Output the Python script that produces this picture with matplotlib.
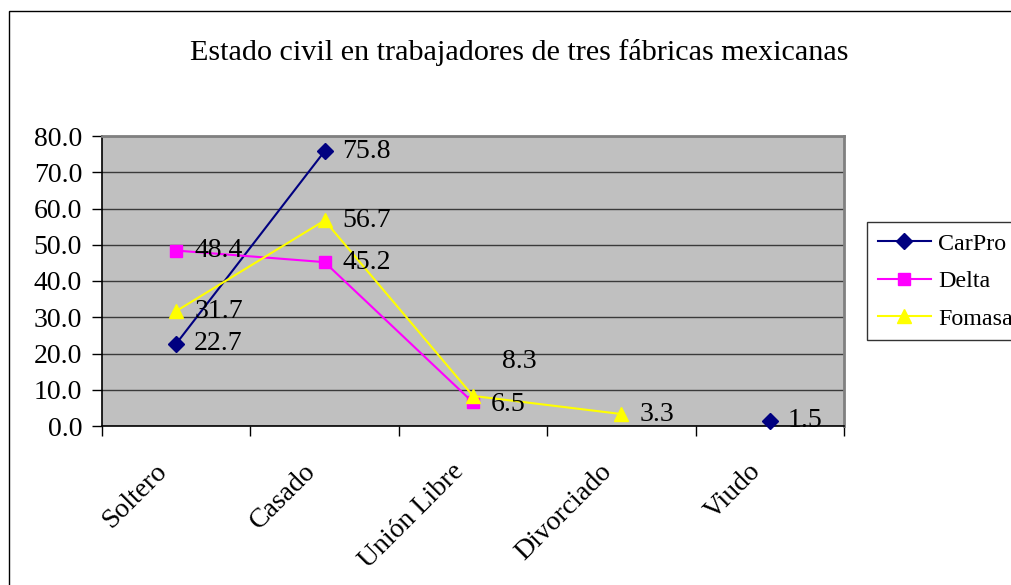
import numpy as np
import matplotlib
matplotlib.use("Agg")
import matplotlib.pyplot as plt
from matplotlib.patches import Rectangle
from matplotlib.transforms import ScaledTranslation

title = "Estado civil en trabajadores de tres fábricas mexicanas"
categories = ["Soltero", "Casado", "Unión Libre", "Divorciado", "Viudo"]
series_names = ["CarPro", "Delta", "Fomasa"]
carpro = [22.7, 75.8, np.nan, np.nan, 1.5]
delta = [48.4, 45.2, 6.5, np.nan, np.nan]
fomasa = [31.7, 56.7, 8.3, 3.3, np.nan]
y_ticks = [0, 10, 20, 30, 40, 50, 60, 70, 80]

plt.rcParams['font.family'] = ['Liberation Serif', 'DejaVu Serif']

W, H = 1011, 585
fig = plt.figure(figsize=(W / 100, H / 100), dpi=100)
fig.patch.set_facecolor('white')

# outer chart border
fig.patches.append(Rectangle((9 / W, -0.1), 1.2, (H - 11) / H + 0.1,
                             transform=fig.transFigure, fill=False,
                             edgecolor='black', lw=1.0, clip_on=False))

ax = fig.add_axes([102 / W, 1 - 426 / H, 742 / W, 290 / H])
ax.set_facecolor('#C0C0C0')

x = np.arange(len(categories))
styles = [
    (carpro, '#000080', 'D', 8),
    (delta, '#FF00FF', 's', 8.5),
    (fomasa, '#FFFF00', '^', 10),
]
handles = []
for (vals, col, mk, ms), name in zip(styles, series_names):
    ln, = ax.plot(x, vals, color=col, marker=mk, markersize=ms, lw=1.5,
                  markeredgecolor=col, markerfacecolor=col, label=name,
                  zorder=3, clip_on=False)
    handles.append(ln)

# data labels
label_offsets = {(2, 2): (29, 34), (1, 2): (18, -2)}
for si, (vals, col, mk, ms) in enumerate(styles):
    for i, v in enumerate(vals):
        if np.isnan(v):
            continue
        dx, dy = label_offsets.get((si, i), (18, 0))
        ax.annotate(f"{v:.1f}", (x[i], v), xytext=(dx, dy),
                    textcoords='offset pixels', ha='left', va='center',
                    fontsize=20, color='black', zorder=4)

ax.set_xlim(-0.5, len(categories) - 0.5)
ax.set_ylim(0, 80)
ax.set_yticks(y_ticks)
ax.set_yticklabels([f"{t:.1f}" for t in y_ticks], fontsize=20)
ax.yaxis.grid(True, color='#3a3a3a', lw=1.0)
ax.set_axisbelow(True)

# category labels (rotated), anchored below each category centre
ax.set_xticks(x)
ax.set_xticklabels([])
ax.tick_params(axis='x', which='major', length=0)
lab_tr = ax.get_xaxis_transform() + ScaledTranslation(-13 / 100, -41.7 / 100,
                                                      fig.dpi_scale_trans)
for xi, cat in zip(x, categories):
    ax.text(xi, 0, cat, transform=lab_tr, fontsize=20, rotation=45,
            ha='right', va='center', rotation_mode='anchor')

ax.set_xticks(np.arange(-0.5, len(categories), 1.0), minor=True)
ax.tick_params(axis='x', which='minor', length=7, width=1, direction='out')
ax.tick_params(axis='y', length=7, width=1, direction='out', pad=7.3)

for s in ['left', 'bottom']:
    ax.spines[s].set_color('black')
    ax.spines[s].set_linewidth(1.2)
for s in ['top', 'right']:
    ax.spines[s].set_color('#808080')
    ax.spines[s].set_linewidth(2)

fig.text(519 / W, 1 - 53 / H, title, ha='center', va='center', fontsize=21.7)

leg = fig.legend(handles=handles, labels=series_names, loc='upper left',
                 bbox_to_anchor=(867 / W, 1 - 222 / H), fontsize=17.3,
                 frameon=True, fancybox=False, edgecolor='black',
                 borderaxespad=0, handlelength=2.2, handletextpad=0.3,
                 labelspacing=0.65, borderpad=0.45)
leg.get_frame().set_linewidth(1.0)

fig.savefig('out.png', dpi=100)
